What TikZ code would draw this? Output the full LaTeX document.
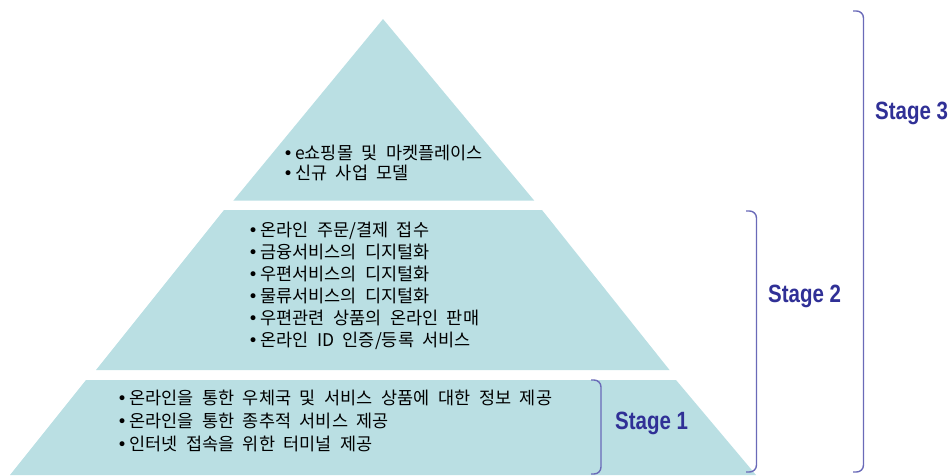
\documentclass[tikz,border=0pt]{standalone}
\usepackage{fontspec}
\newfontfamily\kr{Noto Sans CJK KR}
\newfontfamily\symfont{DejaVu Sans}
\newfontfamily\stagefont[FakeStretch=0.82]{Liberation Sans Bold}
\definecolor{tier}{RGB}{186,223,227}
\definecolor{stageblue}{RGB}{48,48,150}
\definecolor{bracketblue}{RGB}{106,106,184}
\newcommand{\bul}{\makebox[10pt][l]{\hspace{-2pt}\symfont\fontsize{17}{17}\selectfont •}}
\newcommand{\itemfont}{\kr\fontsize{17.5}{17.5}\selectfont\spaceskip=8.6pt\relax}
\tikzset{
  tierfill/.style={fill=tier, draw=none},
  item/.style={anchor=base west, inner sep=0pt, font=\itemfont},
  stagelabel/.style={anchor=west, inner sep=0pt, text=stageblue, font=\stagefont\fontsize{25}{25}\selectfont},
  brace/.style={draw=bracketblue, line width=1.4pt, rounded corners=7pt}
}
\begin{document}
\begin{tikzpicture}[x=1pt,y=-1pt]
\useasboundingbox (0,0) rectangle (950,475);
% tiers
\fill[tierfill] (383,19) -- (534.3,200.7) -- (233.3,200.7) -- cycle;
\fill[tierfill] (224,210) -- (542,210) -- (669.5,370) -- (96,370) -- cycle;
\fill[tierfill] (86,380) -- (676,380) -- (756,475) -- (10,475) -- cycle;
% top texts
\node[item] (t1) at (285,159.5) {\bul e쇼핑몰 및 마켓플레이스};
\node[item] (t2) at (285,179.5) {\bul 신규 사업 모델};
% middle texts
\node[item] (m1) at (250,236.5) {\bul 온라인 주문/결제 접수};
\node[item] (m2) at (250,258.5) {\bul 금융서비스의 디지털화};
\node[item] (m3) at (250,280.5) {\bul 우편서비스의 디지털화};
\node[item] (m4) at (250,302.5) {\bul 물류서비스의 디지털화};
\node[item] (m5) at (250,324.5) {\bul 우편관련 상품의 온라인 판매};
\node[item] (m6) at (250,346.5) {\bul 온라인 ID 인증/등록 서비스};
% bottom texts
\node[item] (b1) at (119,404.5) {\bul 온라인을 통한 우체국 및 서비스 상품에 대한 정보 제공};
\node[item] (b2) at (119,427.5) {\bul 온라인을 통한 종추적 서비스 제공};
\node[item] (b3) at (119,450.5) {\bul 인터넷 접속을 위한 터미널 제공};
% brackets
\coordinate (s1a) at (591,380);
\coordinate (s1b) at (601,380);
\coordinate (s1c) at (601,474);
\coordinate (s1d) at (591,474);
\draw[brace] (s1a) -- (s1b) -- (s1c) -- (s1d);
\coordinate (s2a) at (746,211);
\coordinate (s2b) at (756.5,211);
\coordinate (s2c) at (756.5,472);
\coordinate (s2d) at (746,472);
\draw[brace] (s2a) -- (s2b) -- (s2c) -- (s2d);
\coordinate (s3a) at (853,11);
\coordinate (s3b) at (863.5,11);
\coordinate (s3c) at (863.5,472);
\coordinate (s3d) at (853,472);
\draw[brace] (s3a) -- (s3b) -- (s3c) -- (s3d);
% stage labels
\node[stagelabel] (st1) at (615,423) {Stage 1};
\node[stagelabel] (st2) at (768,296) {Stage 2};
\node[stagelabel] (st3) at (875,113) {Stage 3};
\end{tikzpicture}
\end{document}
